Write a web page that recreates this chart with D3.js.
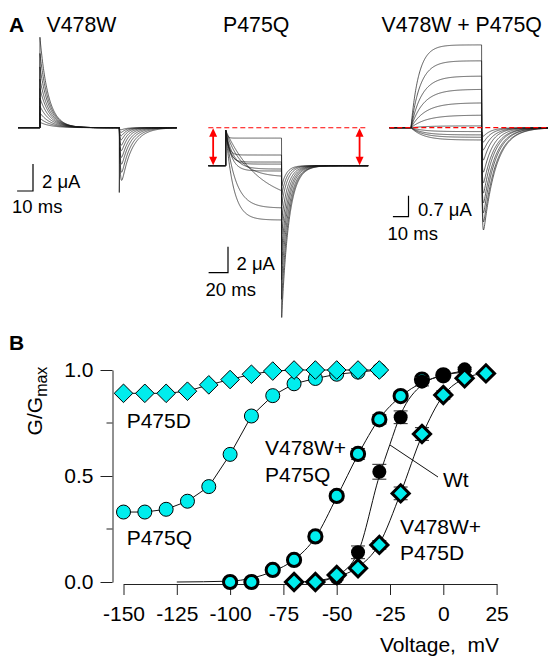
<!DOCTYPE html>
<html><head><meta charset="utf-8">
<script src="https://cdn.jsdelivr.net/npm/d3@7"></script>
<style>
body{margin:0;background:#fff}
svg text{font-family:"Liberation Sans",Arial,Helvetica,sans-serif;fill:#000}
</style>
</head><body>
<svg id="c" width="550" height="656"></svg>
<script>
// ================= Panel B data (G/Gmax vs voltage, mV) =================
const voltP475 = [-150,-140,-130,-120,-110,-100,-90,-80,-70,-60,-50,-40,-30];
const gP475D   = [0.89,0.89,0.89,0.90,0.93,0.955,0.98,0.995,1.0,1.0,1.0,1.0,1.0];
const gP475Q   = [0.33,0.33,0.343,0.381,0.45,0.602,0.783,0.879,0.935,0.96,0.98,0.99,1.0];

const voltVQ = [-100,-90,-80,-70,-60,-50,-40,-30,-20,-10,0];
const gVQ    = [0.0,0.0,0.057,0.104,0.215,0.406,0.604,0.767,0.877,0.955,0.975];
const errVQ  = [0.0,0.0,0.012,0.015,0.02,0.02,0.025,0.022,0.02,0.015,0.01];

const voltWt = [-60,-50,-40,-30,-20,-10,0,10];
const gWt    = [0.0,0.02,0.14,0.52,0.777,0.945,0.975,1.003];
const errWt  = [0.0,0.01,0.03,0.035,0.03,0.02,0.012,0.01];

const voltVD = [-70,-60,-50,-40,-30,-20,-10,0,10,20];
const gVD    = [0.0,0.0,0.033,0.065,0.175,0.418,0.698,0.882,0.961,0.984];
const errVD  = [0.0,0.0,0.01,0.015,0.02,0.03,0.03,0.02,0.015,0.01];

// fitted curves
const fitVQv = [-125,-100,-90,-80,-70,-60,-50,-40,-30,-20,-10,0,10];
const fitVQg = [0.0,0.004,0.018,0.05,0.105,0.21,0.4,0.6,0.77,0.875,0.94,0.975,0.99];
const fitWtv = [-60,-50,-40,-30,-25,-20,-10,0,10];
const fitWtg = [0.0,0.03,0.14,0.5,0.65,0.79,0.93,0.975,0.995];
const fitVDv = [-70,-60,-50,-40,-30,-20,-10,0,10,20];
const fitVDg = [0.0,0.006,0.025,0.07,0.18,0.42,0.69,0.88,0.96,0.985];

const xTicksB = [-150,-125,-100,-75,-50,-25,0,25];
const yTicksB = [0,0.5,1];
const yMinorB = [0.25,0.75];

// ================= Panel A data (currents, µA; time, ms) =================
// V478W: gating-like transients
const wTimes  = [13.8, 63.7, 100];     // pulse on, pulse off, sweep end
const wOnAmp  = [6.7,5.5,4.5,3.6,2.9,2.2,1.6,1.1,0.7,0.4];
const wOnTau  = [5.2,5.4,5.6,5.8,6.0,6.3,6.6,6.8,7.0,7.0];
const wOffAmp = [-3.9,-3.3,-2.7,-2.2,-1.7,-1.3,-0.9,-0.6,-0.35,-0.15];
const wOffTau = [6.5,6.0,5.5,5.0,4.5,4.0,3.6,3.3,3.0,3.0];
const wSpike  = [-4.8];

// P475Q: inward currents from a leaky holding level
const qTimes  = [17.9, 75.7, 165];
const qHold   = [-2.92];
const qStart  = [-0.2];
const qSS     = [-0.8,-2.1,-2.64,-2.8,-3.18,-3.33,-3.8,-5.95,-6.18,-7.1];
const qTau    = [1.5,3,4,5,8,6,15,35,10,8];
const qTail   = [-4.5,-5.2,-6.0,-7.1,-8.2,-9.4,-10.5,-11.7,-13.2,-14.6];
const qTailTau= [5,5.5,6,6.5,6.8,7,7.2,7.5,7.5,7.5];

// V478W + P475Q
const vTimes  = [13.9, 59.2, 102];
const vSS     = [2.76,2.23,1.72,1.28,0.83,0.42,0.06,-0.13,-0.24,-0.32,-0.41];
const vRise   = [5,6,7,8,9,10,10,8,8,8,8];
const vTail   = [-3.41,-3.14,-2.84,-2.51,-2.18,-1.84,-1.48,-1.08,-0.74,-0.48,-0.28];
const vTailTau= [8,8,7.5,7.5,7,7,6.5,6,6,5.5,5];

// ================= drawing =================
const svg = d3.select("#c");
const CYAN = "#00eded";

function norm(tau, rise){
  let m = 0;
  for (let d = 0; d < 60; d += 0.02) m = Math.max(m, Math.exp(-d/tau)*(1-Math.exp(-d/rise)));
  return dt => Math.exp(-dt/tau)*(1-Math.exp(-dt/rise))/m;
}
function drawTraces(g, traces, xs, ys){
  const line = d3.line().x(d => xs(d[0])).y(d => ys(d[1]));
  g.selectAll("path.tr").data(traces).join("path").attr("class","tr")
    .attr("d", line).attr("fill","none").attr("stroke","#1a1a1a")
    .attr("stroke-width",0.7).attr("stroke-linejoin","round");
}
const dt = 0.2;

// ---- Panel A1: V478W
const x1 = d3.scaleLinear().domain([0,100]).range([18,177]);
const y1 = d3.scaleLinear().domain([0,1]).range([127.7,127.7-13.5]);
{
  const [tOn,tOff,tEnd] = wTimes;
  const traces = wOnAmp.map((A,i) => {
    const pts = [[0,0],[tOn,0],[tOn,A]];
    for (let t = tOn+dt; t <= tOff; t += dt) pts.push([t, A*Math.exp(-(t-tOn)/wOnTau[i])]);
    pts.push([tOff, 0]);
    if (i === 0) pts.push([tOff, wSpike[0]], [tOff+0.25, wOffAmp[0]*0.7]);
    const f = norm(wOffTau[i], 0.6);
    for (let t = tOff+dt; t <= tEnd; t += dt) pts.push([t, wOffAmp[i]*f(t-tOff)]);
    return pts;
  });
  drawTraces(svg.append("g"), traces, x1, y1);
}

// ---- Panel A2: P475Q
const x2 = d3.scaleLinear().domain([0,165]).range([208.3,368.3]);
const y2 = d3.scaleLinear().domain([0,1]).range([127.7,127.7-13]);
{
  const [tOn,tOff,tEnd] = qTimes;
  const h = qHold[0], s0 = qStart[0];
  const traces = qSS.map((ss,i) => {
    const pts = [[0,h],[tOn,h],[tOn,s0]];
    for (let t = tOn+dt; t <= tOff; t += dt) pts.push([t, ss + (s0-ss)*Math.exp(-(t-tOn)/qTau[i])]);
    pts.push([tOff, qTail[i]]);
    for (let t = tOff+dt; t <= tEnd; t += dt) pts.push([t, h + (qTail[i]-h)*Math.exp(-(t-tOff)/qTailTau[i])]);
    return pts;
  });
  drawTraces(svg.append("g"), traces, x2, y2);
  // red dashed zero line and double arrows
  svg.append("line").attr("x1",x2(0)).attr("x2",x2(165)).attr("y1",y2(0)).attr("y2",y2(0))
    .attr("stroke","#ff0000").attr("stroke-width",1.1).attr("stroke-dasharray","5,3");
  [5, 156].forEach(tm => {
    const xx = x2(tm), ya = y2(0), yb = y2(h);
    svg.append("line").attr("x1",xx).attr("x2",xx).attr("y1",ya+6).attr("y2",yb-6)
      .attr("stroke","#ff0000").attr("stroke-width",1.8);
    svg.append("path").attr("d",`M${xx},${ya+0.5}L${xx-4},${ya+9}L${xx+4},${ya+9}Z`).attr("fill","#ff0000");
    svg.append("path").attr("d",`M${xx},${yb-0.5}L${xx-4},${yb-9}L${xx+4},${yb-9}Z`).attr("fill","#ff0000");
  });
}

// ---- Panel A3: V478W + P475Q
const x3 = d3.scaleLinear().domain([0,102]).range([389.3,548.3]);
const y3 = d3.scaleLinear().domain([0,1]).range([127.7,127.7-30]);
{
  const [tOn,tOff,tEnd] = vTimes;
  const traces = vSS.map((ss,i) => {
    const pts = [[0,0],[tOn,0]];
    let last = 0;
    for (let t = tOn+dt; t <= tOff; t += dt) { last = ss*(1-Math.exp(-(t-tOn)/vRise[i])); pts.push([t,last]); }
    pts.push([tOff, last]);
    const f = norm(vTailTau[i], 0.4);
    for (let t = tOff+dt; t <= tEnd; t += dt) pts.push([t, vTail[i]*f(t-tOff)]);
    return pts;
  });
  drawTraces(svg.append("g"), traces, x3, y3);
  svg.append("line").attr("x1",x3(0)).attr("x2",x3(102)).attr("y1",y3(0)).attr("y2",y3(0))
    .attr("stroke","#ff0000").attr("stroke-width",1.3).attr("stroke-dasharray","5,3");
}

// ---- scale bars
function scaleBar(xs, ys, cx, cy, ms, ua, lab1, lab1x, lab1y, lab2, lab2x, lab2y){
  const w = xs(ms) - xs(0), hgt = ys(0) - ys(ua);
  svg.append("path").attr("d",`M${cx-w},${cy}H${cx}V${cy-hgt}`)
    .attr("fill","none").attr("stroke","#000").attr("stroke-width",1.2);
  svg.append("text").attr("x",lab1x).attr("y",lab1y).attr("font-size",18.5).text(lab1);
  svg.append("text").attr("x",lab2x).attr("y",lab2y).attr("font-size",18.5).text(lab2);
}
scaleBar(x1, y1, 33, 191, 10, 2, "2 μA", 42, 187.5, "10 ms", 12, 213);
scaleBar(x2, y2, 228, 272.7, 20, 2, "2 μA", 236.5, 269.5, "20 ms", 205.5, 295.5);
scaleBar(x3, y3, 408.5, 216.7, 10, 0.7, "0.7 μA", 418, 215.5, "10 ms", 387.5, 240);

// ---- titles
svg.append("text").attr("x",9).attr("y",32).attr("font-size",21).attr("font-weight","bold").text("A");
svg.append("text").attr("x",46.5).attr("y",32).attr("font-size",21.3).text("V478W");
svg.append("text").attr("x",223).attr("y",32).attr("font-size",21.3).text("P475Q");
svg.append("text").attr("x",381.5).attr("y",32).attr("font-size",21.3).text("V478W + P475Q");

// ================= Panel B =================
const xB = d3.scaleLinear().domain([-150,25]).range([123.5,496.6]);
const yB = d3.scaleLinear().domain([0,1]).range([582,370]);
svg.append("text").attr("x",9).attr("y",350).attr("font-size",21).attr("font-weight","bold").text("B");

const gx = svg.append("g").attr("transform","translate(0,584)")
  .call(d3.axisBottom(xB).tickValues(xTicksB).tickSize(11).tickSizeOuter(0).tickPadding(11).tickFormat(d => String(d)));
const gy = svg.append("g").attr("transform","translate(112.5,0)")
  .call(d3.axisLeft(yB).tickValues(yTicksB).tickSize(12).tickSizeOuter(0).tickPadding(7).tickFormat(d3.format(".1f")));
[gx, gy].forEach(g => {
  g.attr("font-family",null).attr("font-size",null);
  g.selectAll("text").attr("font-size",21);
  g.selectAll("path,line").attr("stroke","#222").attr("stroke-width",1);
});
gy.selectAll("line.minor").data(yMinorB).join("line").attr("class","minor")
  .attr("x1",-6).attr("x2",0).attr("y1",d => yB(d)).attr("y2",d => yB(d))
  .attr("stroke","#222").attr("stroke-width",1);

// axis titles
const yt = svg.append("text").attr("transform","translate(41.7,401) rotate(-90)")
  .attr("text-anchor","middle").attr("font-size",21);
yt.append("tspan").text("G/G");
yt.append("tspan").attr("font-size",16).attr("dy",5).text("max");
svg.append("text").attr("x",380).attr("y",652).attr("font-size",21)
  .style("white-space","pre").text("Voltage,  mV");

// fitted / connecting lines
const lineB = d3.line().x(d => xB(d[0])).y(d => yB(d[1]));
const smooth = d3.line().x(d => xB(d[0])).y(d => yB(d[1])).curve(d3.curveMonotoneX);
const zip = (a,b) => a.map((v,i) => [v,b[i]]);
const lineG = svg.append("g").attr("fill","none").attr("stroke","#111").attr("stroke-width",1);
lineG.append("path").attr("d", smooth(zip(fitVQv,fitVQg)));
lineG.append("path").attr("d", smooth(zip(fitWtv,fitWtg)));
lineG.append("path").attr("d", smooth(zip(fitVDv,fitVDg)));
lineG.append("path").attr("d", lineB(zip(voltP475,gP475Q)));
lineG.append("path").attr("d", lineB(zip(voltP475,gP475D)));

// Wt pointer
svg.append("line").attr("x1",438).attr("y1",477).attr("x2",390).attr("y2",445)
  .attr("stroke","#111").attr("stroke-width",1);

const diamond = (r) => `M0,${-r}L${r},0L0,${r}L${-r},0Z`;
function errBars(volts, vals, errs){
  const g = svg.append("g").attr("stroke","#222").attr("stroke-width",1);
  volts.forEach((v,i) => {
    if (!errs[i]) return;
    const cx = xB(v), yt1 = yB(vals[i]+errs[i]), yb1 = yB(vals[i]-errs[i]);
    g.append("line").attr("x1",cx).attr("x2",cx).attr("y1",yt1).attr("y2",yb1);
    g.append("line").attr("x1",cx-7).attr("x2",cx+7).attr("y1",yt1).attr("y2",yt1);
    g.append("line").attr("x1",cx-7).attr("x2",cx+7).attr("y1",yb1).attr("y2",yb1);
  });
}

// P475Q circles (thin)
svg.append("g").selectAll("circle").data(zip(voltP475,gP475Q)).join("circle")
  .attr("cx",d => xB(d[0])).attr("cy",d => yB(d[1])).attr("r",7)
  .attr("fill",CYAN).attr("stroke","#000").attr("stroke-width",1);
// P475D diamonds (thin)
svg.append("g").selectAll("path").data(zip(voltP475,gP475D)).join("path")
  .attr("transform",d => `translate(${xB(d[0])},${yB(d[1])})`).attr("d",diamond(9.3))
  .attr("fill",CYAN).attr("stroke","#000").attr("stroke-width",1);
// V478W+P475Q (thick circles)
errBars(voltVQ, gVQ, errVQ);
svg.append("g").selectAll("circle").data(zip(voltVQ,gVQ)).join("circle")
  .attr("cx",d => xB(d[0])).attr("cy",d => yB(d[1])).attr("r",6.6)
  .attr("fill",CYAN).attr("stroke","#000").attr("stroke-width",3);
// Wt (filled black)
errBars(voltWt, gWt, errWt);
svg.append("g").selectAll("circle").data(zip(voltWt,gWt)).join("circle")
  .attr("cx",d => xB(d[0])).attr("cy",d => yB(d[1])).attr("r",7).attr("fill","#000");
// V478W+P475D (thick diamonds)
errBars(voltVD, gVD, errVD);
svg.append("g").selectAll("path").data(zip(voltVD,gVD)).join("path")
  .attr("transform",d => `translate(${xB(d[0])},${yB(d[1])})`).attr("d",diamond(8.6))
  .attr("fill",CYAN).attr("stroke","#000").attr("stroke-width",3).attr("stroke-linejoin","miter");

// labels
const lab = (t,x,y) => svg.append("text").attr("x",x).attr("y",y).attr("font-size",21).text(t);
lab("P475D",126.7,428);
lab("P475Q",126.7,545);
lab("V478W+",265,455);
lab("P475Q",265,481.7);
lab("Wt",443,486.7);
lab("V478W+",400,534);
lab("P475D",400,560);
</script>
</body></html>
